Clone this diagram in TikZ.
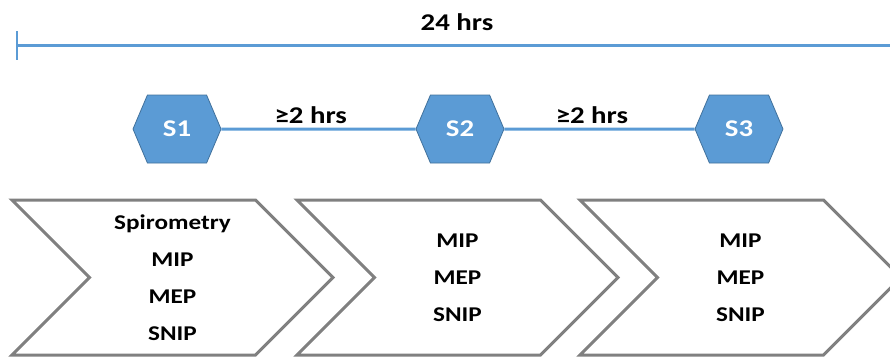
\documentclass[tikz,border=0pt]{standalone}
\usepackage{fontspec}
\setmainfont{Carlito}[FakeStretch=1.2]
\usetikzlibrary{shapes.symbols,arrows.meta}
\definecolor{stageblue}{HTML}{5B9BD5}
\definecolor{stageedge}{HTML}{41719C}
\definecolor{chevrongray}{HTML}{808080}

\begin{document}
\begin{tikzpicture}[x=1pt,y=-1pt,
	stage/.style={signal, signal to=east and west, signal pointer angle=134,
		fill=stageblue, draw=stageedge, line width=0.8pt, minimum width=88pt,
		minimum height=68pt, inner sep=0pt, text=white,
		font=\fontsize{24}{28}\selectfont\bfseries},
	tests/.style={signal, signal from=west, signal to=east, signal pointer angle=90,
		draw=chevrongray, line width=3pt, minimum width=321pt, minimum height=155pt,
		inner sep=0pt, align=center, font=\fontsize{21}{37}\selectfont\bfseries},
	timeline/.style={draw=stageblue, line width=3pt},
	hrs/.style={font=\fontsize{24}{28}\selectfont\bfseries, inner sep=2pt}]
	\useasboundingbox (0,0) rectangle (890,360);

	\coordinate (day start) at (16,45);
	\coordinate (day end) at (895,45);
	\draw[timeline, {Bar[width=29pt,line width=2pt]}-] (day start) -- (day end);
	\node[hrs] (day label) at (457,22) {24 hrs};

	\node[stage] (S1) at (177,129) {S1};
	\node[stage] (S2) at (460,129) {S2};
	\node[stage] (S3) at (739,129) {S3};
	\draw[timeline] (S1) -- node[hrs, above=2pt, pos=.46] {≥2 hrs} (S2);
	\draw[timeline] (S2) -- node[hrs, above=2pt, pos=.46] {≥2 hrs} (S3);

	\node[tests] (T1) at (172.5,277.5) {Spirometry\\MIP\\MEP\\SNIP};
	\node[tests] (T2) at (457.5,277.5) {MIP\\MEP\\SNIP};
	\node[tests] (T3) at (740.5,277.5) {MIP\\MEP\\SNIP};
\end{tikzpicture}
\end{document}
